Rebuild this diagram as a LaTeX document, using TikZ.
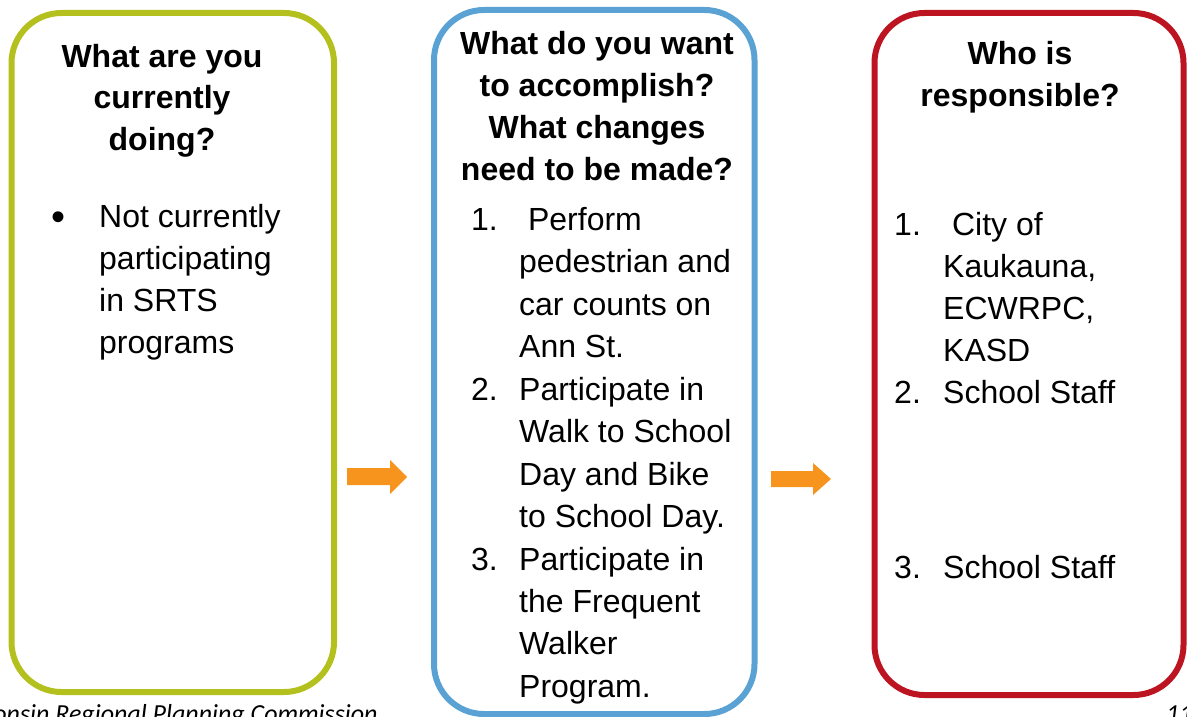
\documentclass[tikz,border=0pt]{standalone}
\usepackage{fontspec}
\setmainfont{Liberation Sans}
\newfontfamily\footfont{Carlito}
\definecolor{boxgreen}{RGB}{180,192,30}
\definecolor{boxblue}{RGB}{91,162,212}
\definecolor{boxred}{RGB}{188,20,32}
\definecolor{arroworange}{RGB}{247,148,29}
\begin{document}
\begin{tikzpicture}[x=1pt,y=-1pt,
  roundbox/.style={draw, line width=6pt, rounded corners=50pt, inner sep=0pt, outer sep=0pt},
  headtext/.style={inner sep=0pt, anchor=base, font=\fontsize{32}{42}\selectfont\bfseries},
  bodytext/.style={inner sep=0pt, anchor=base west, font=\fontsize{32}{42}\selectfont},
  foottext/.style={inner sep=0pt, font=\fontsize{26}{30}\selectfont\footfont\itshape},
  arrowfill/.style={fill=arroworange, draw=none}]
\useasboundingbox (0,0) rectangle (1187,717);
\clip (0,0) rectangle (1187,717);

% boxes
\node[roundbox, draw=boxgreen, minimum width=322.5pt, minimum height=679pt] (doing) at (172.75,352.5) {};
\node[roundbox, draw=boxblue, minimum width=320.5pt, minimum height=704pt] (want) at (594.25,362) {};
\node[roundbox, draw=boxred, minimum width=309pt, minimum height=682pt] (who) at (1029,354) {};

% arrows
\fill[arrowfill] (347,468) -- (390,468) -- (390,460) -- (407,477) -- (390,494) -- (390,485) -- (347,485) -- cycle;
\fill[arrowfill] (771,471) -- (813,471) -- (813,463) -- (831,479) -- (813,495) -- (813,487) -- (771,487) -- cycle;

% left column
\node[headtext] (h1) at (162,67) {\begin{tabular}[t]{@{}c@{}}What are you\\currently\\doing?\end{tabular}};
\node[bodytext, font=\fontsize{40}{42}\selectfont] (b1) at (51,230.5) {\textbullet};
\node[bodytext] (t1) at (99,227) {\begin{tabular}[t]{@{}l@{}}Not currently\\participating\\in SRTS\\programs\end{tabular}};

% middle column
\node[headtext, font=\fontsize{32}{41.7}\selectfont\bfseries] (h2) at (597,55) {\begin{tabular}[t]{@{}c@{}}What do you want\\to accomplish?\\What changes\\need to be made?\end{tabular}};
\node[bodytext, font=\fontsize{32}{42.5}\selectfont] (t2) at (471,230) {\begin{tabular}[t]{@{}p{48pt}@{}l@{}}
1.&\ Perform\\
 &pedestrian and\\
 &car counts on\\
 &Ann St.\\
2.&Participate in\\
 &Walk to School\\
 &Day and Bike\\
 &to School Day.\\
3.&Participate in\\
 &the Frequent\\
 &Walker\\
 &Program.
\end{tabular}};

% right column
\node[headtext] (h3) at (1020,64.5) {\begin{tabular}[t]{@{}c@{}}Who is\\responsible?\end{tabular}};
\node[bodytext] (t3) at (894,235) {\begin{tabular}[t]{@{}p{49pt}@{}l@{}}
1.&\ City of\\
 &Kaukauna,\\
 &ECWRPC,\\
 &KASD\\
2.&School Staff
\end{tabular}};
\node[bodytext] (t4) at (894,578) {\begin{tabular}[t]{@{}p{49pt}@{}l@{}}3.&School Staff\end{tabular}};

% footer
\node[foottext, anchor=base east] (foot) at (378,722) {East Central Wisconsin Regional Planning Commission};
\node[foottext, anchor=base west] (page) at (1166,722) {11};
\end{tikzpicture}
\end{document}
